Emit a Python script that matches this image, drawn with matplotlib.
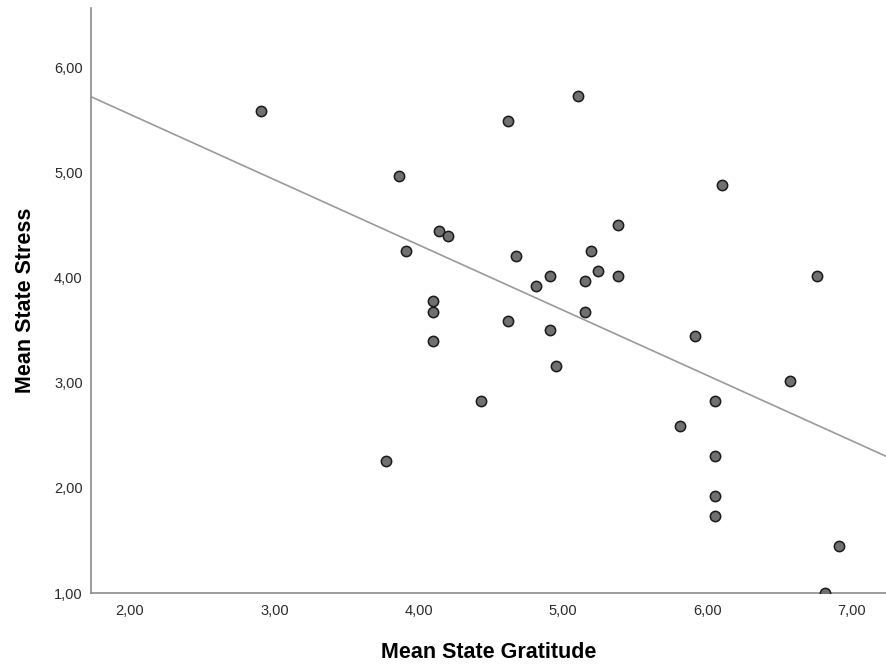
import numpy as np
import matplotlib
matplotlib.use("Agg")
import matplotlib.pyplot as plt

# Mean State Gratitude (x) vs Mean State Stress (y)
gratitude = [2.91, 3.86, 4.14, 4.20, 3.91, 4.10, 4.10, 4.10, 3.77, 4.43,
             4.62, 5.10, 4.67, 5.19, 5.24, 5.38, 5.38, 4.91, 5.15, 4.81,
             4.62, 4.91, 4.95, 5.15, 6.10, 6.76, 6.57, 6.05, 5.91, 5.81,
             6.05, 6.05, 6.05, 6.91, 6.81]
stress = [5.59, 4.97, 4.45, 4.40, 4.26, 3.78, 3.68, 3.40, 2.26, 2.83,
          5.49, 5.73, 4.21, 4.26, 4.07, 4.50, 4.02, 4.02, 3.97, 3.92,
          3.59, 3.50, 3.16, 3.68, 4.88, 4.02, 3.02, 2.83, 3.45, 2.59,
          2.30, 1.92, 1.73, 1.45, 1.00]

x_ticks = [2, 3, 4, 5, 6, 7]
x_labels = ["2,00", "3,00", "4,00", "5,00", "6,00", "7,00"]
y_ticks = [1, 2, 3, 4, 5, 6]
y_labels = ["1,00", "2,00", "3,00", "4,00", "5,00", "6,00"]

plt.rcParams['font.family'] = ['Liberation Sans', 'DejaVu Sans']

fig = plt.figure(figsize=(8.86, 6.64), dpi=100)
ax = fig.add_axes([0.1027, 0.1069, 0.8973, 0.8811])

xmin, xmax = 1.73, 7.235
ax.set_xlim(xmin, xmax)
ax.set_ylim(1.0, 6.57)

# linear fit line across the full axis
slope, icpt = np.polyfit(gratitude, stress, 1)
xs = np.array([xmin, xmax])
ax.plot(xs, icpt + slope * xs, color="#9a9a9a", lw=1.2, zorder=2)

ax.scatter(gratitude, stress, s=55, facecolor="#707070", edgecolor="#1a1a1a",
           linewidths=1.1, zorder=3, clip_on=True)

ax.set_xticks(x_ticks)
ax.set_xticklabels(x_labels)
ax.set_yticks(y_ticks)
ax.set_yticklabels(y_labels)
ax.tick_params(axis="both", length=0, labelsize=10.5, colors="#2a2a2a")
ax.tick_params(axis="x", pad=8)
ax.tick_params(axis="y", pad=6)

for s in ["top", "right"]:
    ax.spines[s].set_visible(False)
for s in ["left", "bottom"]:
    ax.spines[s].set_color("#8c8c8c")
    ax.spines[s].set_linewidth(1.2)

ax.set_xlabel("Mean State Gratitude", fontsize=15.5, fontweight="bold", labelpad=17)
ax.set_ylabel("Mean State Stress", fontsize=15.5, fontweight="bold", labelpad=13)

fig.savefig("out.png", dpi=100)
